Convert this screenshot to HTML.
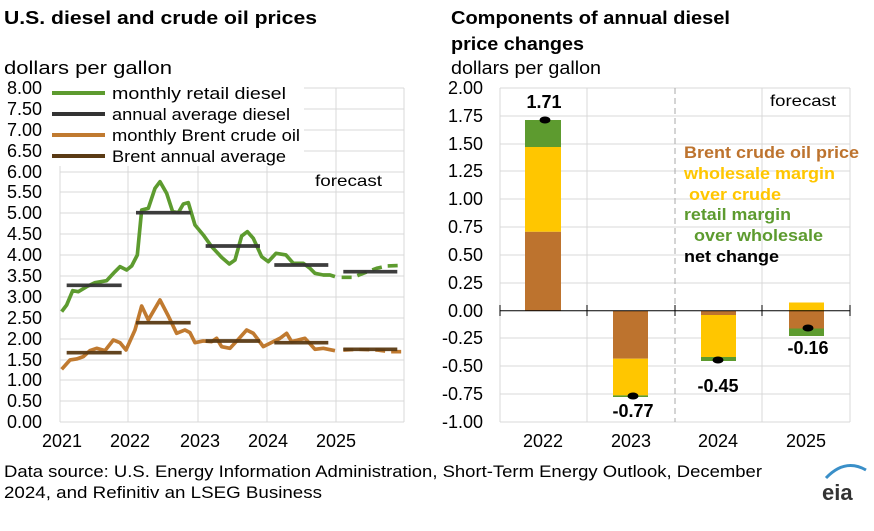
<!DOCTYPE html>
<html><head><meta charset="utf-8"><style>
body{margin:0;background:#fff;width:874px;height:526px;overflow:hidden}
text{font-family:"Liberation Sans",Arial,sans-serif}
</style></head><body>
<svg width="874" height="526" xmlns="http://www.w3.org/2000/svg">
<g font-size="18" font-weight="bold" fill="#000">
<text x="4" y="24" textLength="313" lengthAdjust="spacingAndGlyphs">U.S. diesel and crude oil prices</text>
<text x="451" y="24" textLength="279" lengthAdjust="spacingAndGlyphs">Components of annual diesel</text>
<text x="451" y="50" textLength="133" lengthAdjust="spacingAndGlyphs">price changes</text>
</g>
<text x="4" y="74" font-size="18" textLength="168" lengthAdjust="spacingAndGlyphs">dollars per gallon</text>
<text x="451" y="74" font-size="18" textLength="150" lengthAdjust="spacingAndGlyphs">dollars per gallon</text>
<!-- left grid -->
<g stroke="#d9d9d9" stroke-width="1">
<line x1="60" y1="88" x2="404" y2="88"/><line x1="60" y1="109" x2="404" y2="109"/><line x1="60" y1="130" x2="404" y2="130"/><line x1="60" y1="151" x2="404" y2="151"/><line x1="60" y1="172" x2="404" y2="172"/><line x1="60" y1="192" x2="404" y2="192"/><line x1="60" y1="213" x2="404" y2="213"/><line x1="60" y1="234" x2="404" y2="234"/><line x1="60" y1="255" x2="404" y2="255"/><line x1="60" y1="276" x2="404" y2="276"/><line x1="60" y1="297" x2="404" y2="297"/><line x1="60" y1="318" x2="404" y2="318"/><line x1="60" y1="339" x2="404" y2="339"/><line x1="60" y1="360" x2="404" y2="360"/><line x1="60" y1="380" x2="404" y2="380"/><line x1="60" y1="401" x2="404" y2="401"/><line x1="60" y1="422" x2="404" y2="422"/>
<line x1="60" y1="88" x2="60" y2="422"/><line x1="128" y1="88" x2="128" y2="422"/><line x1="198" y1="88" x2="198" y2="422"/><line x1="267" y1="88" x2="267" y2="422"/><line x1="336" y1="88" x2="336" y2="422"/><line x1="404" y1="88" x2="404" y2="422"/>
</g>
<g font-size="18" text-anchor="end">
<text x="42" y="94">8.00</text><text x="42" y="115">7.50</text><text x="42" y="136">7.00</text><text x="42" y="157">6.50</text><text x="42" y="178">6.00</text><text x="42" y="198">5.50</text><text x="42" y="219">5.00</text><text x="42" y="240">4.50</text><text x="42" y="261">4.00</text><text x="42" y="282">3.50</text><text x="42" y="303">3.00</text><text x="42" y="324">2.50</text><text x="42" y="345">2.00</text><text x="42" y="366">1.50</text><text x="42" y="386">1.00</text><text x="42" y="407">0.50</text><text x="42" y="428">0.00</text>
</g>
<g font-size="18" text-anchor="middle">
<text x="62" y="447">2021</text><text x="130" y="447">2022</text><text x="200" y="447">2023</text><text x="268" y="447">2024</text><text x="336" y="447">2025</text>
</g>
<text x="315" y="186" font-size="16" textLength="67" lengthAdjust="spacingAndGlyphs">forecast</text>
<g transform="translate(40,160) scale(0.3333)" fill="none" stroke-linejoin="round">
<polyline stroke="#5d9b2f" stroke-width="11" points="65,455 80,435 98,392 115,395 140,380 165,368 200,362 225,335 240,320 260,330 275,318 292,285 305,150 325,145 345,85 360,65 380,100 398,155 415,158 430,132 445,128 465,195 490,225 515,260 545,292 568,312 585,300 605,228 622,215 640,235 665,290 685,305 708,280 738,285 760,310 790,310 810,325 825,340 850,345 870,345 885,350"/>
<polyline stroke="#5d9b2f" stroke-width="11" stroke-dasharray="30,18" points="905,352 940,352 970,340 1010,325 1040,318 1090,316"/>
<polyline stroke="#c07a30" stroke-width="11" points="65,628 90,600 110,597 130,590 150,572 170,565 195,572 220,540 240,548 258,570 285,510 305,438 325,480 360,420 385,468 410,520 435,510 450,518 465,548 490,543 515,545 530,535 545,560 570,565 595,538 620,510 640,520 670,560 700,545 720,535 740,520 755,545 795,535 825,568 850,565 885,572"/>
<polyline stroke="#c07a30" stroke-width="11" stroke-dasharray="30,18" points="910,570 960,568 1010,570 1050,575 1090,575"/>
<g stroke="#333" stroke-width="11" stroke-opacity="0.95">
<line x1="80" y1="376" x2="245" y2="376"/><line x1="288" y1="158" x2="452" y2="158"/><line x1="497" y1="258" x2="660" y2="258"/><line x1="703" y1="315" x2="865" y2="315"/><line x1="910" y1="335" x2="1072" y2="335"/>
</g>
<g stroke="#5a3a14" stroke-width="11" stroke-opacity="0.95">
<line x1="80" y1="578" x2="245" y2="578"/><line x1="288" y1="488" x2="452" y2="488"/><line x1="497" y1="543" x2="660" y2="543"/><line x1="703" y1="548" x2="865" y2="548"/><line x1="910" y1="568" x2="1072" y2="568"/>
</g>
</g>
<!-- legend -->
<rect x="48" y="82" width="256" height="84" fill="#fff"/>
<g stroke-width="4">
<line x1="52" y1="93" x2="105" y2="93" stroke="#5d9b2f"/>
<line x1="52" y1="114" x2="105" y2="114" stroke="#333"/>
<line x1="52" y1="135" x2="105" y2="135" stroke="#c07a30"/>
<line x1="52" y1="156" x2="105" y2="156" stroke="#5a3a14"/>
</g>
<g font-size="17">
<text x="112" y="99" textLength="174" lengthAdjust="spacingAndGlyphs">monthly retail diesel</text>
<text x="112" y="120" textLength="178" lengthAdjust="spacingAndGlyphs">annual average diesel</text>
<text x="112" y="141" textLength="188" lengthAdjust="spacingAndGlyphs">monthly Brent crude oil</text>
<text x="112" y="162" textLength="174" lengthAdjust="spacingAndGlyphs">Brent annual average</text>
</g>
<!-- right chart -->
<g stroke="#d9d9d9" stroke-width="1">
<line x1="500" y1="88" x2="850" y2="88"/><line x1="500" y1="116" x2="850" y2="116"/><line x1="500" y1="144" x2="850" y2="144"/><line x1="500" y1="171" x2="850" y2="171"/><line x1="500" y1="199" x2="850" y2="199"/><line x1="500" y1="227" x2="850" y2="227"/><line x1="500" y1="255" x2="850" y2="255"/><line x1="500" y1="283" x2="850" y2="283"/><line x1="500" y1="338" x2="850" y2="338"/><line x1="500" y1="366" x2="850" y2="366"/><line x1="500" y1="394" x2="850" y2="394"/><line x1="500" y1="422" x2="850" y2="422"/>
<line x1="500" y1="88" x2="500" y2="422"/><line x1="587" y1="88" x2="587" y2="422"/><line x1="762" y1="88" x2="762" y2="422"/><line x1="850" y1="88" x2="850" y2="422"/>
</g>
<line x1="675" y1="88" x2="675" y2="422" stroke="#aaa" stroke-dasharray="6,4"/>
<g font-size="18" text-anchor="end">
<text x="483" y="94">2.00</text><text x="483" y="122">1.75</text><text x="483" y="150">1.50</text><text x="483" y="177">1.25</text><text x="483" y="205">1.00</text><text x="483" y="233">0.75</text><text x="483" y="261">0.50</text><text x="483" y="289">0.25</text><text x="483" y="317">0.00</text><text x="483" y="344">-0.25</text><text x="483" y="372">-0.50</text><text x="483" y="400">-0.75</text><text x="483" y="428">-1.00</text>
</g>
<g font-size="18" text-anchor="middle">
<text x="543" y="447">2022</text><text x="631" y="447">2023</text><text x="718" y="447">2024</text><text x="806" y="447">2025</text>
</g>
<!-- bars -->
<rect x="525" y="231.7" width="36" height="79" fill="#bd732e"/>
<rect x="525" y="147" width="36" height="84.7" fill="#ffc600"/>
<rect x="525" y="120" width="36" height="27" fill="#5d9b2f"/>
<rect x="613" y="310.7" width="35" height="48" fill="#bd732e"/>
<rect x="613" y="358.7" width="35" height="36.7" fill="#ffc600"/>
<rect x="613" y="395.4" width="35" height="1.6" fill="#5d9b2f"/>
<rect x="701" y="310.7" width="35" height="4.3" fill="#bd732e"/>
<rect x="701" y="315" width="35" height="42" fill="#ffc600"/>
<rect x="701" y="357" width="35" height="4" fill="#5d9b2f"/>
<rect x="789" y="302.5" width="35" height="8.2" fill="#ffc600"/>
<rect x="789" y="310.7" width="35" height="17.8" fill="#bd732e"/>
<rect x="789" y="328.5" width="35" height="7.5" fill="#5d9b2f"/>
<line x1="500" y1="310.7" x2="850" y2="310.7" stroke="#000" stroke-width="1"/>
<g stroke="#000"><line x1="500" y1="305" x2="500" y2="316"/><line x1="587" y1="305" x2="587" y2="316"/><line x1="675" y1="305" x2="675" y2="316"/><line x1="762" y1="305" x2="762" y2="316"/><line x1="850" y1="305" x2="850" y2="316"/></g>
<g fill="#000">
<ellipse cx="545" cy="120" rx="5.5" ry="3.5"/><ellipse cx="633" cy="396" rx="5.5" ry="3.5"/><ellipse cx="718" cy="360" rx="5.5" ry="3.5"/><ellipse cx="808" cy="328" rx="5.5" ry="3.5"/>
</g>
<g font-size="18" font-weight="bold" text-anchor="middle">
<text x="544" y="108">1.71</text><text x="633" y="417">-0.77</text><text x="718" y="392">-0.45</text><text x="808" y="354">-0.16</text>
</g>
<text x="770" y="106" font-size="16" textLength="66" lengthAdjust="spacingAndGlyphs">forecast</text>
<g font-size="17" font-weight="bold">
<text x="684" y="158" fill="#bd732e" textLength="175" lengthAdjust="spacingAndGlyphs">Brent crude oil price</text>
<text x="684" y="179" fill="#ffc600" textLength="151" lengthAdjust="spacingAndGlyphs">wholesale margin</text>
<text x="689" y="200" fill="#ffc600" textLength="92" lengthAdjust="spacingAndGlyphs">over crude</text>
<text x="684" y="220" fill="#5d9b2f" textLength="107" lengthAdjust="spacingAndGlyphs">retail margin</text>
<text x="694" y="241" fill="#5d9b2f" textLength="129" lengthAdjust="spacingAndGlyphs">over wholesale</text>
<text x="684" y="262" fill="#000" textLength="95" lengthAdjust="spacingAndGlyphs">net change</text>
</g>
<g font-size="17">
<text x="4" y="477" textLength="758" lengthAdjust="spacingAndGlyphs">Data source: U.S. Energy Information Administration, Short-Term Energy Outlook, December</text>
<text x="4" y="498" textLength="318" lengthAdjust="spacingAndGlyphs">2024, and Refinitiv an LSEG Business</text>
</g>
<text x="822" y="500" font-size="22" font-weight="bold" fill="#333">eia</text>
<path d="M826 478 Q845 458 866 470" stroke="#3a8fc8" stroke-width="3" fill="none"/>
</svg>
</body></html>
